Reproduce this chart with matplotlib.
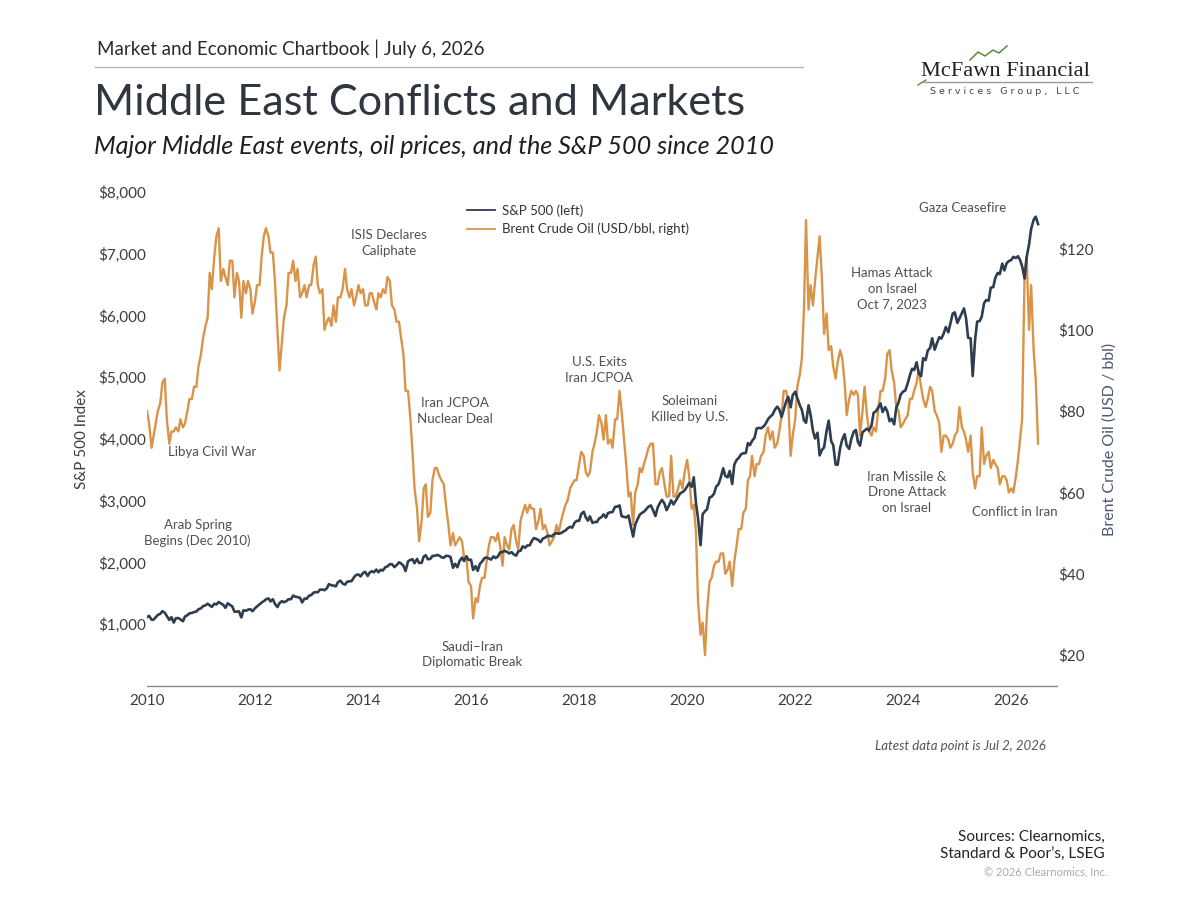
import numpy as np
import pandas as pd
import matplotlib
matplotlib.use("Agg")
import matplotlib.pyplot as plt
from matplotlib.lines import Line2D

plt.rcParams['font.family'] = ['Lato', 'DejaVu Sans']

# DATA  (values on the 1st and 15th of each month)
dates = pd.date_range("2010-01-01", "2026-07-01", freq="SMS")

sp500 = [
    1115, 1136, 1074, 1075, 1115, 1150, 1170, 1211, 1187, 1135, 1070, 1115, 1027, 1096, 1101, 1079, 1049, 1125, 1146, 1176, 1184, 1197, 1206, 1242,  # 2010
    1258, 1293, 1307, 1332, 1306, 1281, 1332, 1320, 1361, 1338, 1314, 1266, 1339, 1316, 1287, 1204, 1204, 1209, 1110, 1225, 1218, 1236, 1244, 1211,  # 2011
    1258, 1289, 1324, 1351, 1374, 1402, 1419, 1370, 1405, 1330, 1278, 1342, 1374, 1356, 1376, 1405, 1406, 1465, 1444, 1440, 1427, 1353, 1416, 1413,  # 2012
    1462, 1472, 1513, 1520, 1518, 1560, 1562, 1552, 1582, 1650, 1631, 1626, 1614, 1682, 1706, 1661, 1640, 1688, 1695, 1698, 1762, 1798, 1806, 1775,  # 2013
    1831, 1848, 1782, 1838, 1859, 1841, 1885, 1842, 1883, 1870, 1924, 1937, 1973, 1973, 1925, 1955, 2003, 1984, 1946, 1862, 2018, 2039, 2053, 1989,  # 2014
    2058, 1992, 1995, 2096, 2117, 2053, 2059, 2106, 2108, 2122, 2111, 2084, 2077, 2108, 2104, 2091, 1914, 1978, 1923, 2023, 2079, 2023, 2102, 2043,  # 2015
    2044, 1880, 1940, 1865, 1978, 2015, 2072, 2081, 2065, 2047, 2099, 2071, 2099, 2162, 2171, 2190, 2170, 2147, 2168, 2133, 2111, 2180, 2191, 2262,  # 2016
    2239, 2275, 2279, 2349, 2395, 2385, 2363, 2329, 2388, 2402, 2430, 2432, 2423, 2459, 2476, 2465, 2476, 2500, 2519, 2553, 2579, 2564, 2642, 2675,  # 2017
    2674, 2786, 2822, 2731, 2678, 2748, 2641, 2656, 2655, 2711, 2735, 2779, 2727, 2801, 2813, 2818, 2902, 2905, 2924, 2750, 2740, 2730, 2760, 2600,  # 2018
    2420, 2610, 2706, 2775, 2803, 2822, 2867, 2905, 2924, 2850, 2752, 2886, 2964, 3014, 2953, 2847, 2926, 3007, 2940, 2995, 3066, 3120, 3141, 3168,  # 2019
    3231, 3289, 3225, 3380, 2954, 2711, 2280, 2783, 2830, 2863, 3055, 3066, 3115, 3226, 3271, 3372, 3526, 3401, 3380, 3483, 3270, 3585, 3662, 3694,  # 2020
    3756, 3768, 3774, 3934, 3901, 3968, 4020, 4170, 4181, 4173, 4202, 4246, 4320, 4360, 4395, 4468, 4524, 4480, 4357, 4471, 4613, 4682, 4513, 4709,  # 2021
    4766, 4663, 4546, 4471, 4306, 4262, 4545, 4392, 4132, 4008, 4101, 3735, 3825, 3863, 4130, 4297, 3966, 3901, 3586, 3583, 3856, 3992, 4077, 3895,  # 2022
    3840, 3999, 4119, 4147, 3951, 3892, 4109, 4137, 4169, 4136, 4221, 4425, 4450, 4505, 4576, 4437, 4515, 4450, 4288, 4327, 4237, 4502, 4594, 4719,  # 2023
    4770, 4784, 4906, 5029, 5137, 5117, 5243, 5061, 5018, 5308, 5277, 5431, 5475, 5631, 5446, 5543, 5648, 5626, 5708, 5815, 5728, 5870, 6032, 6051,  # 2024
    5880, 5950, 6040, 6115, 5955, 5640, 5630, 5020, 5600, 5900, 5910, 5980, 6200, 6250, 6240, 6450, 6460, 6610, 6690, 6670, 6840, 6730, 6850, 6880,  # 2025
    6900, 6950, 6930, 6960, 6900, 6800, 6600, 6950, 7150, 7400, 7550, 7600, 7480,                                                                   # 2026
]

brent = [
    80, 77, 71, 74, 77, 80, 82, 87, 88, 78, 72, 75, 75, 76, 75, 78, 76, 77, 80, 83, 83, 86, 86, 91,  # 2010
    94, 98, 101, 103, 114, 110, 118, 123, 125, 112, 115, 113, 111, 117, 117, 108, 114, 112, 103, 112, 109, 112, 110, 104,  # 2011
    107, 111, 111, 118, 123, 125, 123, 119, 119, 112, 100, 90, 97, 103, 106, 114, 114, 117, 112, 115, 108, 109, 111, 108,  # 2012
    111, 111, 116, 118, 111, 109, 110, 100, 102, 103, 101, 106, 102, 108, 108, 110, 115, 110, 108, 110, 106, 108, 111, 109,  # 2013
    110, 106, 106, 109, 109, 107, 105, 109, 108, 110, 109, 113, 112, 106, 105, 102, 102, 98, 94, 85, 85, 79, 70, 61,  # 2014
    56, 48, 53, 61, 62, 54, 55, 63, 66, 66, 64, 63, 62, 57, 52, 47, 50, 47, 48, 49, 48, 44, 44, 38,  # 2015
    37, 29, 34, 33, 37, 39, 39, 43, 47, 49, 49, 48, 50, 47, 42, 49, 47, 46, 51, 52, 48, 46, 53, 55,  # 2016
    57, 55, 57, 56, 56, 51, 53, 56, 51, 52, 50, 47, 48, 49, 52, 50, 53, 55, 57, 58, 61, 62, 63, 63,  # 2017
    67, 70, 69, 65, 64, 65, 70, 72, 75, 79, 77, 73, 79, 72, 73, 71, 78, 78, 85, 80, 73, 67, 59, 60,  # 2018
    52, 60, 62, 66, 65, 67, 69, 71, 72, 72, 62, 62, 65, 66, 62, 59, 59, 69, 59, 59, 61, 63, 61, 65,  # 2019
    68, 64, 56, 57, 50, 33, 25, 28, 20, 31, 38, 39, 42, 43, 43, 45, 45, 40, 41, 43, 37, 43, 47, 51,  # 2020
    51, 55, 56, 63, 64, 69, 64, 67, 67, 69, 70, 74, 76, 73, 75, 71, 72, 75, 79, 85, 85, 82, 69, 74,  # 2021
    78, 86, 89, 93, 105, 127, 105, 111, 106, 112, 118, 123, 112, 99, 104, 95, 96, 91, 88, 92, 95, 93, 87, 79,  # 2022
    83, 85, 84, 85, 84, 74, 80, 86, 79, 75, 74, 76, 75, 80, 85, 85, 88, 94, 95, 90, 87, 81, 80, 76,  # 2023
    77, 78, 79, 83, 83, 85, 87, 90, 86, 83, 81, 83, 86, 85, 80, 79, 77, 70, 74, 74, 73, 71, 72, 74,  # 2024
    75, 81, 76, 75, 73, 70, 74, 65, 61, 64, 64, 76, 67, 69, 70, 66, 68, 67, 66, 62, 64, 64, 63, 60,  # 2025
    61, 60, 64, 68, 73, 78, 114, 118, 100, 111, 95, 88, 72,                                          # 2026
]

event_labels = ["Libya Civil War", "Arab Spring\nBegins (Dec 2010)", "ISIS Declares\nCaliphate",
                "Iran JCPOA\nNuclear Deal", "Saudi\u2013Iran\nDiplomatic Break", "U.S. Exits\nIran JCPOA",
                "Soleimani\nKilled by U.S.", "Gaza Ceasefire", "Hamas Attack\non Israel\nOct 7, 2023",
                "Iran Missile &\nDrone Attack\non Israel", "Conflict in Iran"]
event_dates = ["2011-03-15", "2010-12-10", "2014-06-25", "2015-09-12", "2016-01-08", "2018-05-15",
               "2020-01-15", "2025-02-03", "2023-10-18", "2024-01-26", "2026-01-26"]
event_levels = [3788, 2475, 7175, 4452, 514, 5117, 4485, 7740, 6430, 3140, 2815]  # on the S&P scale

sp_ticks = [1000, 2000, 3000, 4000, 5000, 6000, 7000, 8000]
oil_ticks = [20, 40, 60, 80, 100, 120]
year_ticks = list(range(2010, 2027, 2))

NAVY = "#2e3d4f"
ORANGE = "#d9944a"
TXT = "#3c3c3c"

# FIGURE
fig = plt.figure(figsize=(12, 9), dpi=100)
W, H = 1200, 900

def fx(px):
    return px / W

def fy(py):
    return 1 - py / H

ax = fig.add_axes([fx(147), fy(686), fx(1057 - 147), (686 - 192) / H])
ax2 = ax.twinx()

ax2.plot(dates, brent, color=ORANGE, lw=1.7)
ax.plot(dates, sp500, color=NAVY, lw=1.9)
ax.set_zorder(ax2.get_zorder() + 1)
ax.patch.set_visible(False)

ax.set_xlim(pd.Timestamp("2010-01-01"), pd.Timestamp("2026-11-06"))
ax.set_ylim(0, 8000)
ax2.set_ylim(12.4, 133.9)

ax.set_yticks(sp_ticks)
ax.set_yticklabels([f"${v:,.0f}" for v in sp_ticks])
ax2.set_yticks(oil_ticks)
ax2.set_yticklabels([f"${v}" for v in oil_ticks])
ax.set_xticks([pd.Timestamp(f"{y}-01-01") for y in year_ticks])
ax.set_xticklabels([str(y) for y in year_ticks])

for a in (ax, ax2):
    for s in a.spines.values():
        s.set_visible(False)
ax.spines["bottom"].set_visible(True)
ax.spines["bottom"].set_color("#8a8a8a")
ax.spines["bottom"].set_linewidth(1.0)

ax.tick_params(axis="y", length=0, pad=1, labelsize=11, labelcolor=TXT)
ax2.tick_params(axis="y", length=0, pad=1, labelsize=11, labelcolor=TXT)
ax.tick_params(axis="x", length=0, pad=6, labelsize=11, labelcolor=TXT)

ax.set_ylabel("S&P 500 Index", fontsize=11, color=TXT, labelpad=6)
ax2.set_ylabel("Brent Crude Oil (USD / bbl)", fontsize=11.5, color="#4a5870", labelpad=6)

for lab, d, lvl in zip(event_labels, event_dates, event_levels):
    ax.text(pd.Timestamp(d), lvl, lab, ha="center", va="center", fontsize=9.5,
            color="#505050", linespacing=1.35)

handles = [Line2D([], [], color=NAVY, lw=1.3), Line2D([], [], color=ORANGE, lw=1.3)]
fig.legend(handles, ["S&P 500 (left)", "Brent Crude Oil (USD/bbl, right)"],
           loc="upper left", bbox_to_anchor=(fx(462), fy(199)), frameon=False,
           fontsize=9.5, handlelength=2.1, handletextpad=0.5, labelspacing=0.45,
           labelcolor="#333333", borderaxespad=0)

# HEADER
renderer = fig.canvas.get_renderer()

def fit_width(t, width_px):
    w = t.get_window_extent(renderer=renderer).width
    t.set_fontsize(t.get_fontsize() * width_px / w)

hdr = fig.text(fx(97), fy(49), "Market and Economic Chartbook | July 6, 2026",
               fontsize=13, color="#2a2a2a", va="center", ha="left")
fit_width(hdr, 385)
fig.add_artist(Line2D([fx(95), fx(803)], [fy(67), fy(67)], color="#b0b0b0", lw=0.9))

title = fig.text(fx(94), fy(103), "Middle East Conflicts and Markets", fontsize=34,
                 color="#2f3640", va="center", ha="left")
fit_width(title, 653)
sub = fig.text(fx(94), fy(146), "Major Middle East events, oil prices, and the S&P 500 since 2010",
               fontsize=18, style="italic", color="#1e1e1e", va="center", ha="left")
fit_width(sub, 680)

# logo
fig.add_artist(Line2D([fx(970), fx(978), fx(985), fx(993), fx(999), fx(1007)],
                      [fy(60), fy(52), fy(56), fy(50), fy(53), fy(46)], color="#5b8a3c", lw=1.1))
logo = fig.text(fx(921), fy(71), "McFawn Financial", family="Liberation Serif", fontsize=15,
                color="#222222", va="center", ha="left")
fit_width(logo, 169)
fig.add_artist(Line2D([fx(924), fx(1092)], [fy(82), fy(82)], color="#9a9a9a", lw=1.0))
fig.add_artist(Line2D([fx(918), fx(926)], [fy(85), fy(80)], color="#5b8a3c", lw=1.0))
fig.text(fx(1005), fy(91), "S e r v i c e s   G r o u p ,   L L C", family="DejaVu Sans",
         fontsize=6.8, color="#444444", va="center", ha="center")

# FOOTER
fig.text(fx(1046), fy(746), "Latest data point is Jul 2, 2026", fontsize=9.5, style="italic",
         color="#555555", ha="right", va="center")
fig.text(fx(1105), fy(846), "Sources: Clearnomics,\nStandard & Poor\u2019s, LSEG", fontsize=11,
         color="#222222", ha="right", va="center", linespacing=1.3)
fig.text(fx(1107), fy(872), "\u00a9 2026 Clearnomics, Inc.", fontsize=8, color="#aaaaaa",
         ha="right", va="center")

fig.savefig("out.png", dpi=100, facecolor="white")
